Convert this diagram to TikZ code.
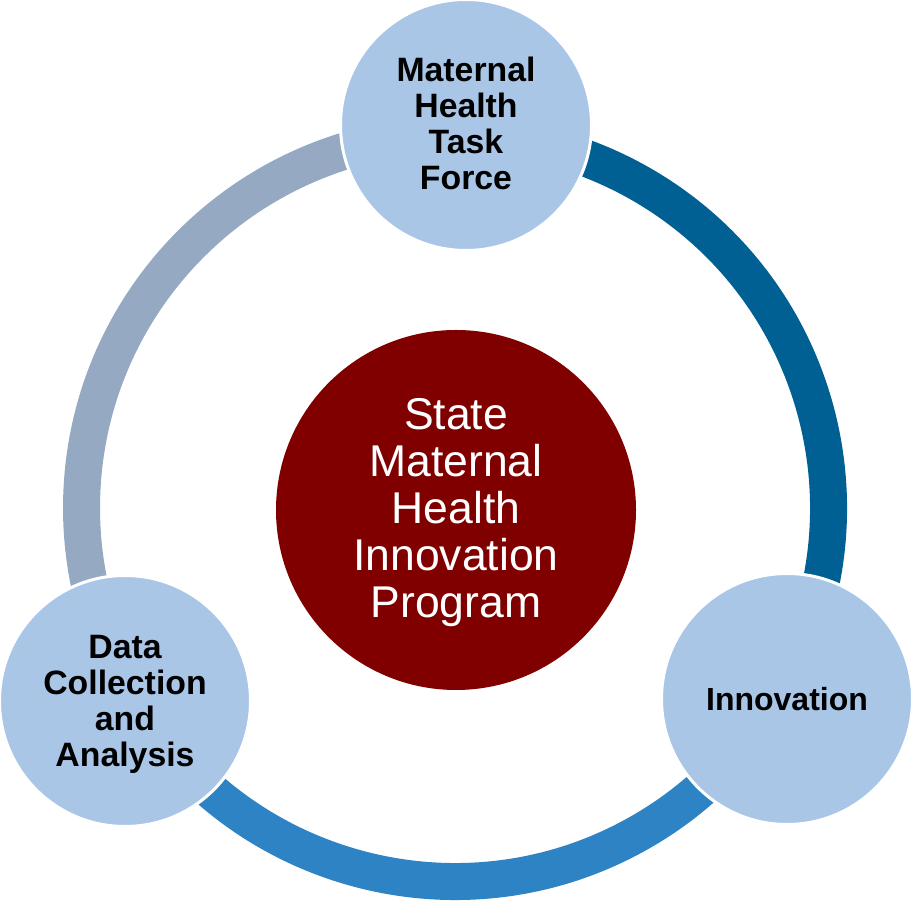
\documentclass[tikz,border=0pt]{standalone}
\usepackage{fontspec}
\setmainfont{Liberation Sans}
\definecolor{ringgray}{HTML}{95A9C2}
\definecolor{ringdark}{HTML}{006094}
\definecolor{ringmid}{HTML}{2E83C4}
\definecolor{bubble}{HTML}{A9C6E7}
\definecolor{core}{HTML}{800000}
\tikzset{
  x=1pt, y=1pt,
  ringarc/.style={line width=37pt},
  bubblenode/.style={circle, fill=bubble, draw=white, line width=3pt, minimum size=251pt, inner sep=0pt},
  bubbletext/.style={align=center, font=\fontsize{33.8}{36}\selectfont\bfseries, text=black},
  corenode/.style={circle, fill=core, minimum size=360pt, inner sep=0pt},
  coretext/.style={align=center, font=\fontsize{44.5}{47}\selectfont, text=white}
}
\begin{document}
\begin{tikzpicture}
\useasboundingbox (0,0) rectangle (912,901);
\coordinate (ring) at (455,393);
% ring arcs
\draw[ringarc, ringgray] ([shift={(88.4:373.5pt)}]ring) arc[start angle=88.4, end angle=210.3, radius=373.5pt];
\draw[ringarc, ringmid] ([shift={(210.3:373.5pt)}]ring) arc[start angle=210.3, end angle=330.1, radius=373.5pt];
\draw[ringarc, ringdark] ([shift={(330.1:373.5pt)}]ring) arc[start angle=330.1, end angle=448.4, radius=373.5pt];
% circles
\node[corenode] (center) at (456,391) {};
\node[bubblenode] (task) at (466,776) {};
\node[bubblenode] (data) at (125,200) {};
\node[bubblenode] (innov) at (787,202) {};
% labels
\node[coretext] (centerlabel) at ([yshift=-3pt]center.center) {State\\Maternal\\Health\\Innovation\\Program};
\node[bubbletext] (tasklabel) at ([yshift=2pt]task.center) {Maternal\\Health\\Task\\Force};
\node[bubbletext] (datalabel) at ([yshift=-3pt]data.center) {Data\\Collection\\and\\Analysis};
\node[bubbletext, font=\fontsize{32}{36}\selectfont\bfseries] (innovlabel) at (innov.center) {Innovation};
\end{tikzpicture}
\end{document}
